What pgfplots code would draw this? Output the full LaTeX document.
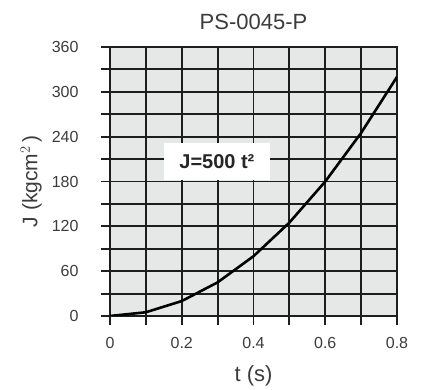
\documentclass[border=0pt]{standalone}
\usepackage{fontspec}
\setmainfont{Liberation Sans}
\usepackage{pgfplots}
\pgfplotsset{compat=1.18}
\definecolor{bgc}{RGB}{230,231,231}
\definecolor{gridc}{RGB}{30,30,30}
\definecolor{txtc}{RGB}{60,60,60}
\begin{document}
\begin{tikzpicture}
\begin{axis}[
  scale only axis,
  width=287bp, height=269bp,
  xmin=0, xmax=0.8, ymin=0, ymax=360,
  xtick={0,0.1,0.2,0.3,0.4,0.5,0.6,0.7,0.8},
  xticklabels={0,,0.2,,0.4,,0.6,,0.8},
  ytick={0,30,60,90,120,150,180,210,240,270,300,330,360},
  yticklabels={0,,60,,120,,180,,240,,300,,360},
  xtick pos=bottom, ytick pos=left,
  tick align=outside,
  major tick length=9bp,
  tick style={color=gridc, line width=1.9bp},
  grid=major,
  grid style={color=gridc, line width=1.9bp},
  axis line style={color=gridc, line width=1.9bp},
  axis background/.style={fill=bgc},
  /pgf/number format/assume math mode=true,
  ticklabel style={font=\fontsize{16bp}{18bp}\selectfont, text=txtc},
  xticklabel style={yshift=-9bp},
  yticklabel style={xshift=-19bp},
  title={PS-0045-P},
  title style={at={(axis description cs:0.5,1.07)}, anchor=center, font=\fontsize{22bp}{26bp}\selectfont, text=txtc},
  xlabel={t (s)},
  xlabel style={at={(axis description cs:0.5,-0.222)}, anchor=center, font=\fontsize{22bp}{26bp}\selectfont, text=txtc},
  ylabel={J (kgcm$^{2}$\,)},
  ylabel style={at={(axis description cs:-0.275,0.5)}, anchor=center, font=\fontsize{21bp}{24bp}\selectfont, text=txtc},
]
\addplot[black, line width=2.6bp] coordinates {
  (0,0) (0.1,5) (0.2,20) (0.3,45) (0.4,80) (0.5,125) (0.6,180) (0.7,245) (0.8,320)
};
\node[fill=white, minimum width=106bp, minimum height=37bp, inner sep=0pt,
  font=\bfseries\fontsize{20bp}{23bp}\selectfont, text=black!85]
  at (axis cs:0.298,207) {J=500 t²};
\end{axis}
\path (current axis.south west) +(-110bp,-69bp) (current axis.north east) +(30bp,47bp);
\end{tikzpicture}
\end{document}
